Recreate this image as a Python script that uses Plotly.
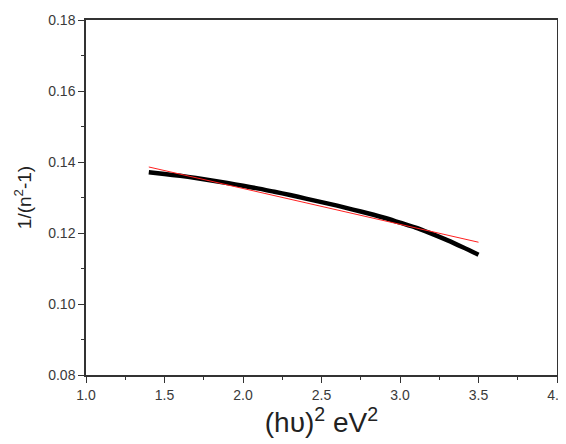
import numpy as np
import plotly.graph_objects as go

# Measured data (black thick curve)
x_data = [1.40, 1.50, 1.60, 1.70, 1.80, 1.90, 2.00, 2.10, 2.20, 2.30, 2.40, 2.50,
          2.60, 2.70, 2.80, 2.90, 3.00, 3.10, 3.20, 3.30, 3.40, 3.50]
y_data = [0.1371, 0.1366, 0.1361, 0.1355, 0.1348, 0.1341, 0.1333, 0.1325, 0.1316,
          0.1307, 0.1297, 0.1287, 0.1277, 0.1266, 0.1255, 0.1243, 0.1229, 0.1215,
          0.1198, 0.1180, 0.1160, 0.1139]

# Linear fit (red thin line) endpoints
x_fit = [1.40, 3.50]
y_fit = [0.1386, 0.1174]

x_ticks = [1.0, 1.5, 2.0, 2.5, 3.0, 3.5, 4.0]
y_ticks = [0.08, 0.10, 0.12, 0.14, 0.16, 0.18]

FONT = "Liberation Sans, Arial, sans-serif"

fig = go.Figure()
fig.add_trace(go.Scatter(x=x_data, y=y_data, mode="lines",
                         line=dict(color="black", width=4.5, shape="spline", smoothing=0.8),
                         showlegend=False))
fig.add_trace(go.Scatter(x=x_fit, y=y_fit, mode="lines",
                         line=dict(color="#ff2020", width=1), showlegend=False))

axis_common = dict(
    showgrid=False, zeroline=False, showline=True, linecolor="#333333", linewidth=1.5,
    mirror=True, ticks="outside", ticklen=6, tickwidth=1.2, tickcolor="#333333",
    automargin=False, ticklabeloverflow="allow",
    tickfont=dict(family=FONT, size=14, color="#3a3a3a"),
)

fig.update_xaxes(**axis_common, range=[1.0, 4.0], tickvals=x_ticks,
                 ticktext=[f"{v:.1f}" for v in x_ticks],
                 minor=dict(ticks="outside", ticklen=3, tickwidth=1.2, tickcolor="#333333", dtick=0.25),
                 title=dict(text="(hυ)<sup>2</sup> eV<sup>2</sup>", standoff=10,
                            font=dict(family=FONT, size=28, color="#222222")))
fig.update_yaxes(**axis_common, range=[0.08, 0.18], tickvals=y_ticks,
                 ticktext=[f"{v:.2f}" for v in y_ticks],
                 minor=dict(ticks="outside", ticklen=3, tickwidth=1.2, tickcolor="#333333", dtick=0.01),
                 title=dict(text="1/(n<sup>2</sup>-1)", standoff=12,
                            font=dict(family=FONT, size=19, color="#222222")))

fig.update_layout(width=558, height=436, plot_bgcolor="white", paper_bgcolor="white",
                  margin=dict(l=78, r=9, t=12, b=69))

fig.write_html("out.html")
